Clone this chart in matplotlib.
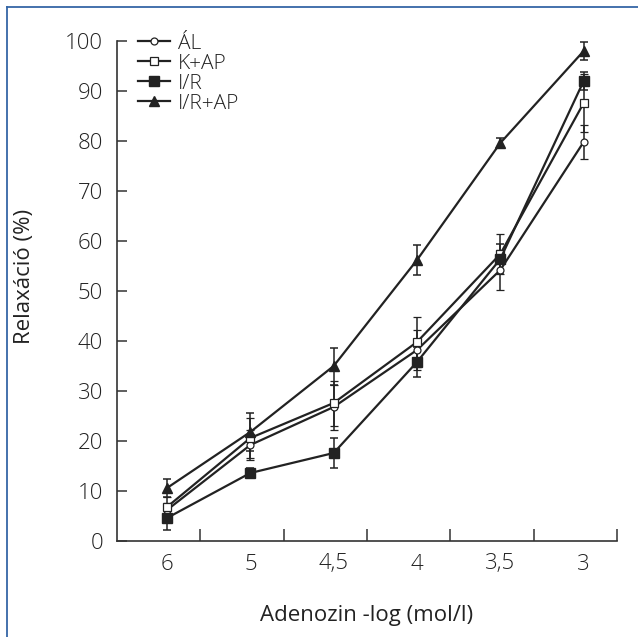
import matplotlib
matplotlib.use("Agg")
import matplotlib.pyplot as plt
from matplotlib.lines import Line2D

plt.rcParams['font.family'] = ['Open Sans', 'DejaVu Sans']
plt.rcParams['font.weight'] = 'light'

categories = ["6", "5", "4,5", "4", "3,5", "3"]
al = [6.2, 19.2, 26.8, 38.2, 54.2, 79.8]
al_err = [1.5, 3.0, 4.5, 4.0, 4.0, 3.4]
kap = [6.8, 20.6, 27.6, 39.8, 57.4, 87.6]
kap_err = [2.0, 4.0, 4.5, 5.0, 4.0, 5.8]
ir = [4.6, 13.6, 17.6, 35.8, 56.4, 92.0]
ir_err = [2.4, 1.0, 3.0, 3.0, 3.0, 1.8]
irap = [10.6, 21.8, 35.0, 56.2, 79.6, 98.0]
irap_err = [1.8, 3.8, 3.7, 3.0, 1.0, 1.8]
labels = ["ÁL", "K+AP", "I/R", "I/R+AP"]
yticks = [0, 10, 20, 30, 40, 50, 60, 70, 80, 90, 100]

fs = 16
fig = plt.figure(figsize=(6.38, 6.37), dpi=100)
ax = fig.add_axes([117/638, 1-541/637, 500/638, 500/637])

x = list(range(len(categories)))
col = '#222222'
styles = [
    (al, al_err, dict(marker='o', markersize=5, markerfacecolor='white', markeredgecolor=col, markeredgewidth=0.9)),
    (kap, kap_err, dict(marker='s', markersize=5.5, markerfacecolor='white', markeredgecolor=col, markeredgewidth=0.9)),
    (ir, ir_err, dict(marker='s', markersize=6.5, markerfacecolor=col, markeredgecolor=col)),
    (irap, irap_err, dict(marker='^', markersize=6.5, markerfacecolor=col, markeredgecolor=col)),
]
handles = []
for (vals, errs, st), lab in zip(styles, labels):
    ax.errorbar(x, vals, yerr=errs, color=col, linewidth=1.6, elinewidth=1.1,
                capsize=3, capthick=1.1, clip_on=False, zorder=3, **st)
    handles.append(Line2D([0], [0], color=col, linewidth=1.6, **st))

ax.set_xlim(-0.6, 5.4)
ax.set_ylim(0, 100)
ax.set_xticks([i + 0.4 for i in x])
ax.set_xticklabels([])
ax.set_xticks(x, minor=True)
ax.set_xticklabels(categories, minor=True)
ax.tick_params(axis='x', which='major', direction='in', length=8.5, width=1.1, color='#333333')
ax.tick_params(axis='x', which='minor', length=0, pad=9, labelsize=fs, labelcolor='#222222')
ax.set_yticks(yticks)
ax.tick_params(axis='y', direction='in', length=7, width=1.1, color='#333333', pad=10,
               labelsize=fs, labelcolor='#222222')
for s in ['top', 'right']:
    ax.spines[s].set_visible(False)
for s in ['left', 'bottom']:
    ax.spines[s].set_linewidth(1.2)
    ax.spines[s].set_color('#333333')

ax.set_ylabel("Relaxáció (%)", fontsize=fs, color='#222222')
ax.yaxis.set_label_coords(-0.164, 0.53)
ax.set_xlabel("Adenozin -log (mol/l)", fontsize=fs, color='#222222')
ax.xaxis.set_label_coords(0.5, -0.128)

leg = ax.legend(handles, labels, loc='upper left', bbox_to_anchor=(0.042, 1.015),
                frameon=False, fontsize=15, handlelength=1.55, handletextpad=0.35,
                labelspacing=0.0, borderpad=0, borderaxespad=0)
for t in leg.get_texts():
    t.set_color('#222222')

blue = '#3566a6'
fig.add_artist(Line2D([7/638, 7/638], [0, 1-7/637], color=blue, linewidth=1.3, transform=fig.transFigure))
fig.add_artist(Line2D([7/638, 1], [1-7/637, 1-7/637], color=blue, linewidth=1.3, transform=fig.transFigure))

fig.savefig("out.png", dpi=100)
